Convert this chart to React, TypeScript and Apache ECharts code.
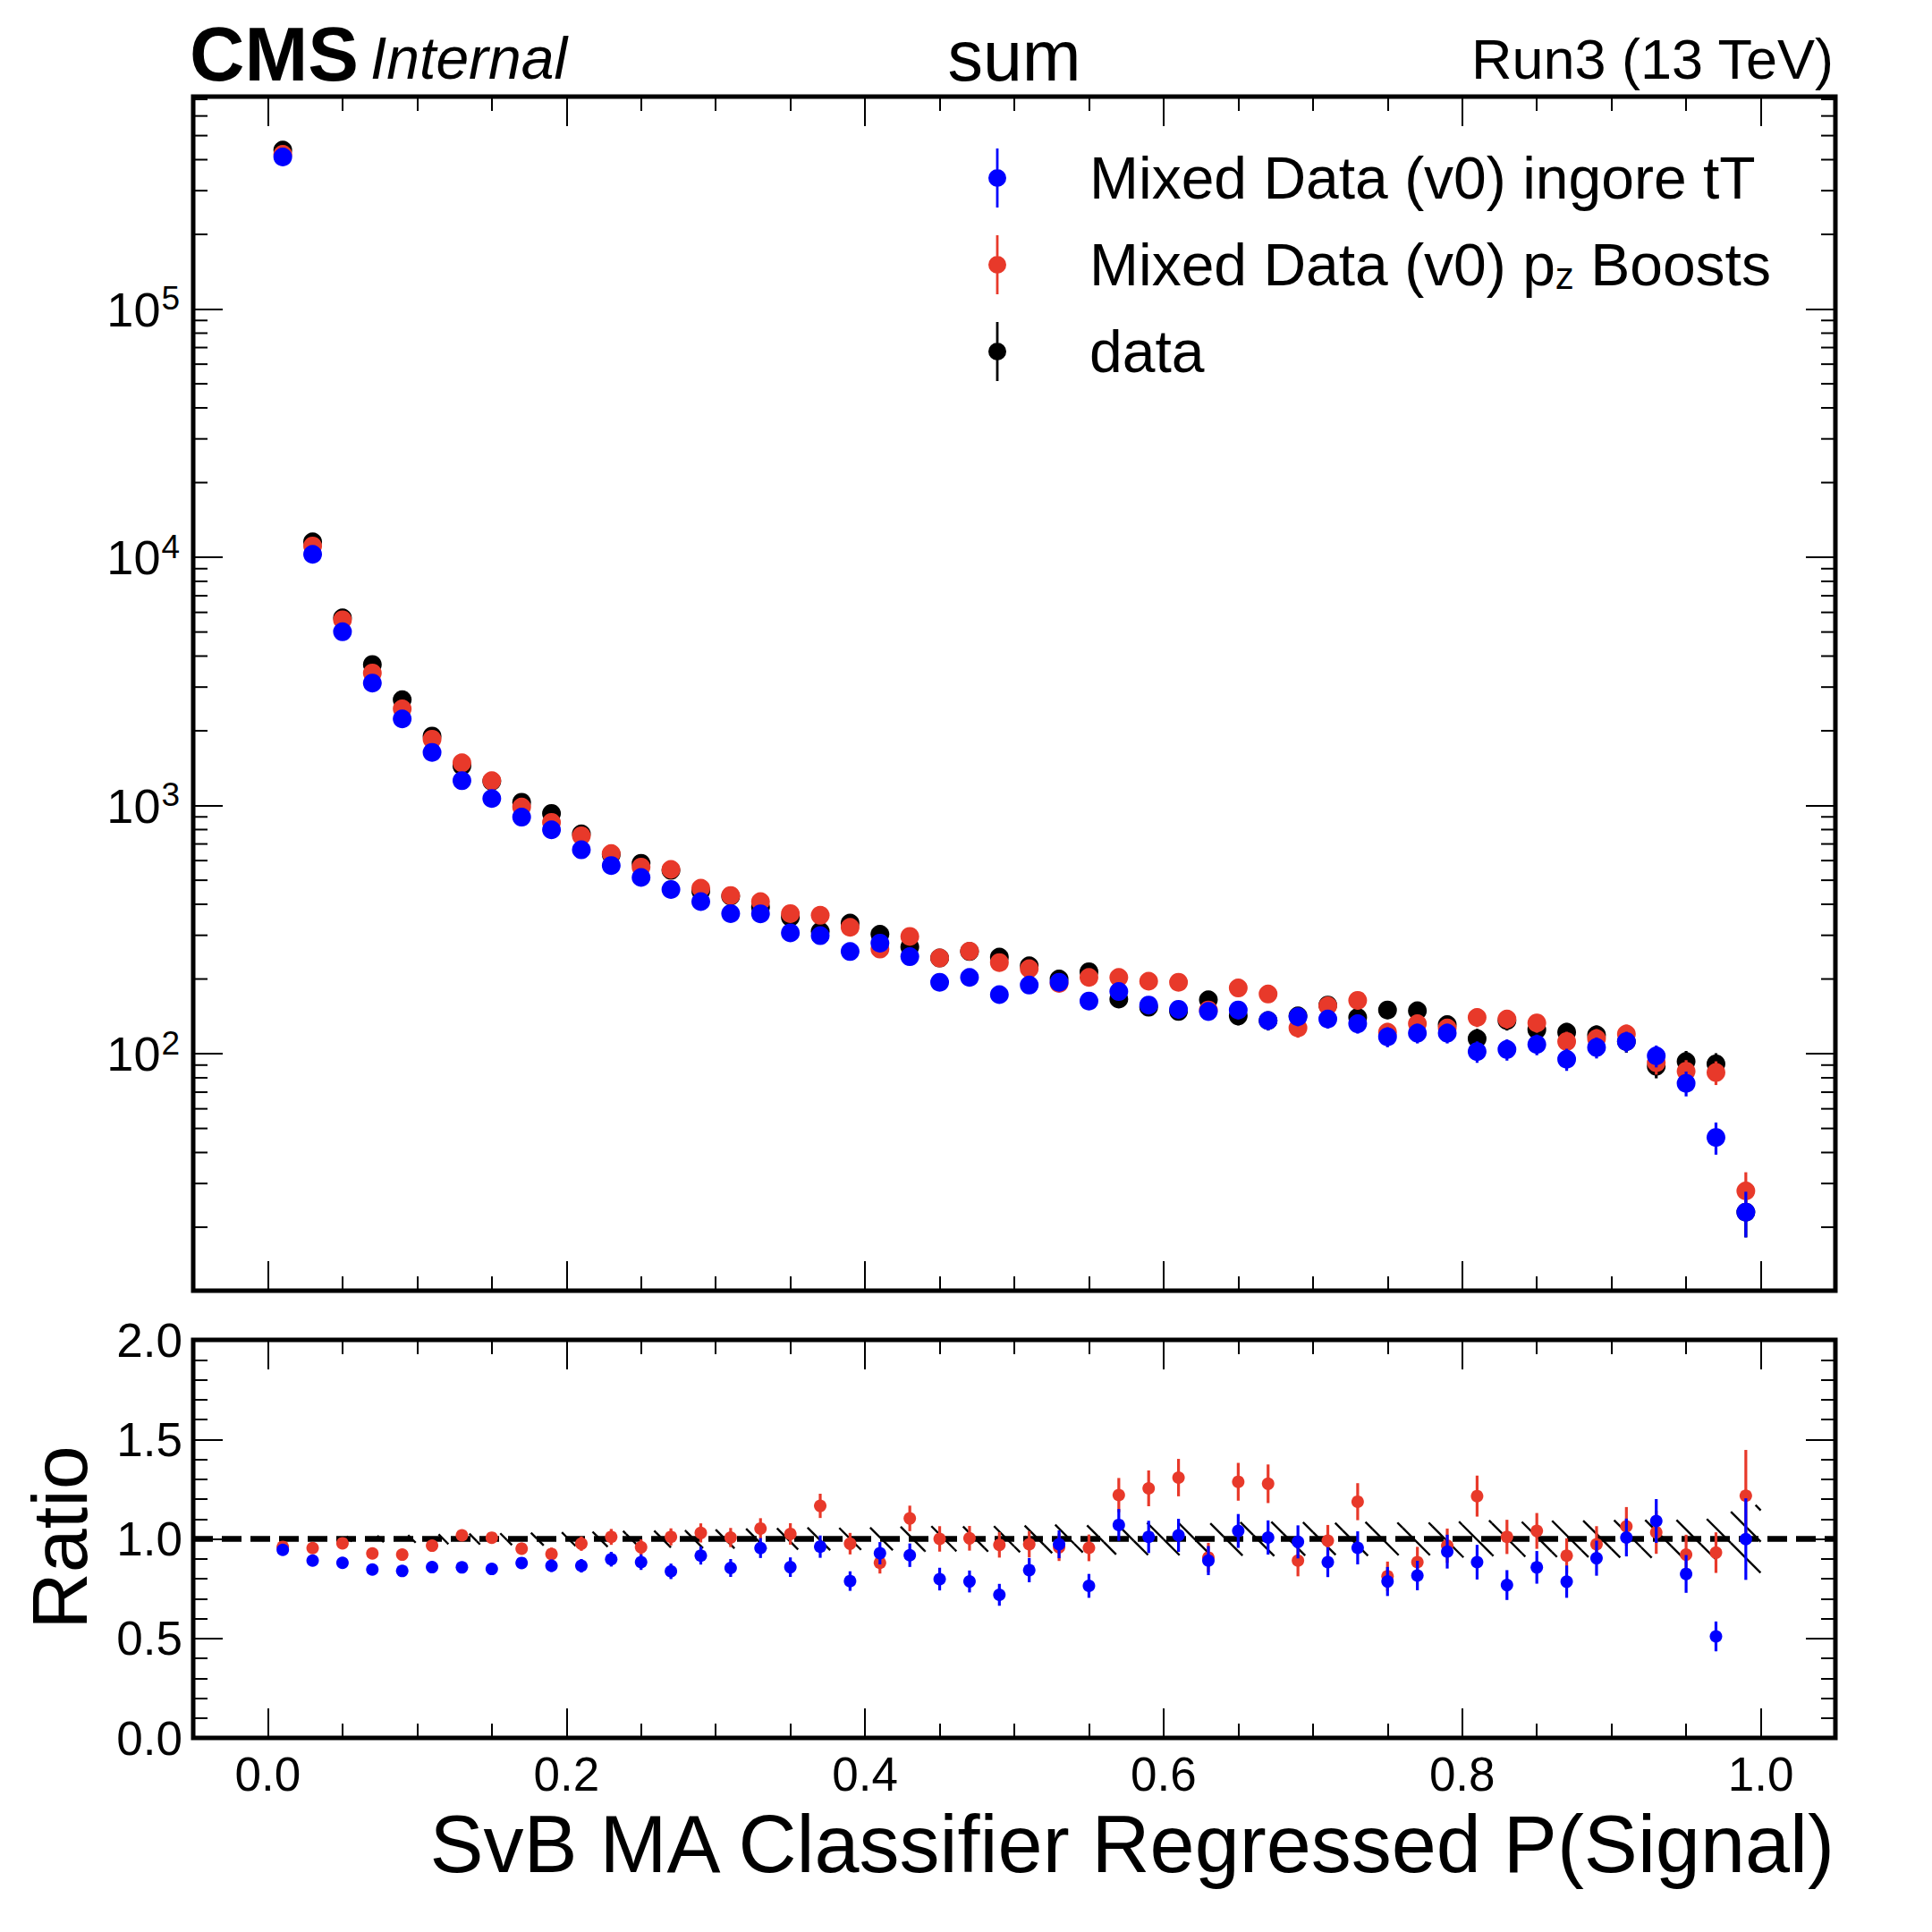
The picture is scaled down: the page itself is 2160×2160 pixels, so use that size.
import React, { useEffect, useRef } from "react";
import * as echarts from "echarts";

const FONT = '"Liberation Sans", Arial, Helvetica, sans-serif';

// ---------------- data ----------------
const BIN_CENTERS = [
  0.01, 0.03, 0.05, 0.07, 0.09, 0.11, 0.13, 0.15, 0.17, 0.19,
  0.21, 0.23, 0.25, 0.27, 0.29, 0.31, 0.33, 0.35, 0.37, 0.39,
  0.41, 0.43, 0.45, 0.47, 0.49, 0.51, 0.53, 0.55, 0.57, 0.59,
  0.61, 0.63, 0.65, 0.67, 0.69, 0.71, 0.73, 0.75, 0.77, 0.79,
  0.81, 0.83, 0.85, 0.87, 0.89, 0.91, 0.93, 0.95, 0.97, 0.99,
];
const BIN_HALF_WIDTH = 0.01;

const NAME_IGNORE = "Mixed Data (v0) ingore tT";
const NAME_PZ = "Mixed Data (v0) pz Boosts";
const NAME_DATA = "data";

const DATA_COUNTS = [
  437000, 11540, 5700, 3700, 2667, 1905, 1445, 1252, 1031, 929,
  769, 634, 585, 548, 452, 431, 390, 355, 311, 336,
  303, 269, 243, 258, 245, 226, 200, 214, 166, 154,
  148, 165, 142, 136, 142, 157, 140, 150, 149, 131,
  115, 136, 125, 122, 119, 112, 89, 93, 91, 23,
];
const DATA_ERR = [
  661, 107, 75, 61, 52, 44, 38, 35, 32, 30,
  28, 25, 24, 23, 21, 21, 20, 19, 18, 18,
  17, 16, 16, 16, 16, 15, 14, 15, 13, 12,
  12, 13, 12, 12, 12, 13, 12, 12, 12, 11,
  11, 12, 11, 11, 11, 11, 9.4, 9.6, 9.5, 4.8,
];

const PZ_COUNTS = [
  420000, 11110, 5600, 3420, 2450, 1850, 1486, 1259, 986, 855,
  755, 640, 565, 553, 464, 434, 410, 367, 361, 323,
  264, 297, 243, 259, 233, 220, 192, 203, 203, 196,
  194, 150, 184, 174, 127, 156, 164, 122, 132, 127,
  140, 138, 133, 112, 115, 120, 92, 85, 84, 28,
];
const PZ_ERR = [
  648, 105, 75, 58, 49, 43, 39, 35, 31, 29,
  27, 25, 24, 24, 22, 21, 20, 19, 19, 18,
  16, 17, 16, 16, 15, 15, 14, 14, 14, 14,
  14, 12, 14, 13, 11, 12, 13, 11, 11.5, 11,
  12, 12, 11.5, 10.6, 10.7, 11, 9.6, 9.2, 9.2, 5.3,
];

const IGNORE_COUNTS = [
  410000, 10280, 5010, 3113, 2233, 1637, 1259, 1067, 898, 798,
  663, 573, 513, 459, 410, 367, 366, 307, 299, 258,
  279, 246, 194, 203, 173, 189, 194, 163, 178, 157,
  151, 148, 150, 136, 141, 138, 132, 117, 121, 121,
  102, 104, 109, 95, 106, 112, 98, 76, 46, 23,
];
const IGNORE_ERR = [
  640, 101, 71, 56, 47, 40, 35, 33, 30, 28,
  26, 24, 23, 21, 20, 19, 19, 17.5, 17.3, 16,
  16.7, 15.7, 14, 14.2, 13.2, 13.7, 14, 12.8, 13.3, 12.5,
  12.3, 12.2, 12.2, 11.7, 11.9, 11.7, 11.5, 10.8, 11, 11,
  10.1, 10.2, 10.4, 9.7, 10.3, 10.6, 9.9, 8.7, 6.8, 4.8,
];

const RATIO_IGNORE = [
  0.945, 0.891, 0.88, 0.846, 0.839, 0.858, 0.857, 0.849, 0.879, 0.865,
  0.865, 0.898, 0.883, 0.837, 0.916, 0.854, 0.954, 0.858, 0.961, 0.788,
  0.928, 0.918, 0.798, 0.786, 0.719, 0.843, 0.973, 0.764, 1.07, 1.01,
  1.018, 0.891, 1.04, 1.007, 0.985, 0.883, 0.955, 0.786, 0.816, 0.936,
  0.883, 0.768, 0.857, 0.785, 0.903, 1.007, 1.09, 0.824, 0.51, 0.999,
];
const RATIO_IGNORE_ERR = [
  0.002, 0.009, 0.012, 0.015, 0.018, 0.021, 0.024, 0.026, 0.029, 0.031,
  0.034, 0.037, 0.039, 0.039, 0.045, 0.045, 0.05, 0.049, 0.056, 0.049,
  0.056, 0.059, 0.057, 0.055, 0.055, 0.061, 0.07, 0.06, 0.08, 0.081,
  0.083, 0.073, 0.085, 0.086, 0.083, 0.075, 0.083, 0.073, 0.074, 0.085,
  0.087, 0.075, 0.082, 0.081, 0.088, 0.095, 0.11, 0.095, 0.075, 0.205,
];
const RATIO_PZ = [
  0.96, 0.954, 0.978, 0.927, 0.921, 0.966, 1.018, 1.006, 0.951, 0.924,
  0.976, 1.01, 0.958, 1.01, 1.03, 1.007, 1.052, 1.025, 1.166, 0.976,
  0.88, 1.103, 1.0, 1.003, 0.97, 0.973, 0.958, 0.955, 1.22, 1.254,
  1.308, 0.906, 1.287, 1.277, 0.891, 0.991, 1.187, 0.812, 0.883, 0.966,
  1.215, 1.01, 1.04, 0.916, 0.973, 1.063, 1.033, 0.921, 0.931, 1.217,
];
const RATIO_PZ_ERR = [
  0.002, 0.009, 0.013, 0.016, 0.019, 0.022, 0.026, 0.028, 0.03, 0.032,
  0.036, 0.04, 0.04, 0.043, 0.048, 0.048, 0.052, 0.054, 0.061, 0.054,
  0.054, 0.064, 0.064, 0.062, 0.064, 0.066, 0.069, 0.067, 0.086, 0.09,
  0.094, 0.074, 0.095, 0.097, 0.079, 0.079, 0.093, 0.074, 0.077, 0.086,
  0.103, 0.086, 0.09, 0.087, 0.091, 0.097, 0.108, 0.1, 0.102, 0.23,
];
// half-height of the hatched data-statistics band around 1
const DATA_STAT_BAND = [
  0.0015, 0.009, 0.013, 0.016, 0.019, 0.023, 0.026, 0.028, 0.031, 0.033,
  0.036, 0.04, 0.041, 0.043, 0.047, 0.048, 0.051, 0.053, 0.057, 0.055,
  0.057, 0.061, 0.064, 0.062, 0.064, 0.067, 0.071, 0.068, 0.078, 0.081,
  0.082, 0.078, 0.084, 0.086, 0.084, 0.08, 0.085, 0.082, 0.082, 0.087,
  0.093, 0.086, 0.089, 0.091, 0.092, 0.094, 0.095, 0.095, 0.1, 0.17,
];

// axis ranges and ticks
const X_MIN = -0.05;
const X_MAX = 1.05;
const Y_MIN = 11.1;
const Y_MAX = 718000;
const LOG_DECADES = [10, 100, 1000, 10000, 100000];
const LOG_MINOR_MULTIPLIERS = [2, 3, 4, 5, 6, 7, 8, 9];
const RATIO_MIN = 0;
const RATIO_MAX = 2;
const RATIO_INTERVAL = 0.5;

// ---------------- layout ----------------
const LEFT = 216;
const WIDTH = 1836;
const MAIN_TOP = 108;
const MAIN_H = 1335;
const RATIO_TOP = 1498;
const RATIO_H = 445;

const BLUE = "#0000ff";
const RED = "#e8392a";
const BLACK = "#000000";

const TICK_STYLE = { color: "#000", width: 2 };

function xAxisDef(gridIndex: number, position: string, showLabels: boolean) {
  return {
    type: "value",
    gridIndex,
    position,
    min: X_MIN,
    max: X_MAX,
    splitNumber: 5,
    axisLine: { show: false, onZero: false },
    splitLine: { show: false },
    minorSplitLine: { show: false },
    axisTick: { show: true, inside: true, length: 33, lineStyle: TICK_STYLE },
    minorTick: { show: true, splitNumber: 4, length: 16, lineStyle: TICK_STYLE },
    axisLabel: {
      show: showLabels,
      margin: 14,
      fontSize: 53,
      fontFamily: FONT,
      color: "#000",
      formatter: (v: number) =>
        Math.abs(v * 5 - Math.round(v * 5)) < 1e-6 ? v.toFixed(1) : "",
    },
  };
}

function logAxisDef(position: string, showLabels: boolean) {
  return {
    type: "log",
    logBase: 10,
    gridIndex: 0,
    position,
    min: Y_MIN,
    max: Y_MAX,
    axisLine: { show: false, onZero: false },
    splitLine: { show: false },
    axisTick: { show: true, inside: true, length: 33, lineStyle: TICK_STYLE },
    axisLabel: {
      show: showLabels,
      margin: 15,
      fontSize: 54,
      fontFamily: FONT,
      color: "#000",
      formatter: (v: number) => {
        const e = Math.log10(v);
        if (Math.abs(e - Math.round(e)) > 1e-6) return "";
        return `{b|10}{s|${Math.round(e)}}`;
      },
      rich: {
        b: { fontSize: 54, lineHeight: 54, fontFamily: FONT, color: "#000" },
        s: { fontSize: 37, lineHeight: 37, fontFamily: FONT, color: "#000", padding: [0, 0, 24, 1] },
      },
    },
  };
}

function ratioAxisDef(position: string, showLabels: boolean) {
  return {
    type: "value",
    gridIndex: 1,
    position,
    min: RATIO_MIN,
    max: RATIO_MAX,
    interval: RATIO_INTERVAL,
    axisLine: { show: false, onZero: false },
    splitLine: { show: false },
    minorSplitLine: { show: false },
    axisTick: { show: true, inside: true, length: 33, lineStyle: TICK_STYLE },
    minorTick: { show: true, splitNumber: 5, length: 16, lineStyle: TICK_STYLE },
    axisLabel: {
      show: showLabels,
      margin: 12,
      fontSize: 53,
      fontFamily: FONT,
      color: "#000",
      formatter: (v: number) => v.toFixed(1),
    },
  };
}

function errorBars(
  xAxisIndex: number,
  yAxisIndex: number,
  values: number[],
  errs: number[],
  color: string,
  z: number
) {
  return {
    type: "custom",
    xAxisIndex,
    yAxisIndex,
    silent: true,
    z,
    encode: { x: 0, y: [1, 2] },
    data: BIN_CENTERS.map((x, i) => [x, values[i] - errs[i], values[i] + errs[i]]),
    renderItem: (_params: any, api: any) => {
      const p0 = api.coord([api.value(0), api.value(1)]);
      const p1 = api.coord([api.value(0), api.value(2)]);
      return {
        type: "line",
        shape: { x1: p0[0], y1: p0[1], x2: p1[0], y2: p1[1] },
        style: { stroke: color, lineWidth: 3.2 },
      };
    },
  };
}

function points(
  name: string,
  xAxisIndex: number,
  yAxisIndex: number,
  values: number[],
  color: string,
  size: number,
  z: number
) {
  return {
    type: "scatter",
    name,
    xAxisIndex,
    yAxisIndex,
    symbol: "circle",
    symbolSize: size,
    silent: true,
    z,
    itemStyle: { color, opacity: 1 },
    data: BIN_CENTERS.map((x, i) => [x, values[i]]),
  };
}

const LEGEND_ICON =
  "path://M8.6 0L11.4 0L11.4 66L8.6 66Z M0 33A10 10 0 1 1 20 33A10 10 0 1 1 0 33Z";

function buildOption() {
  const logMinor: number[][] = [];
  LOG_DECADES.forEach((d) =>
    LOG_MINOR_MULTIPLIERS.forEach((m) => {
      const v = d * m;
      if (v > Y_MIN && v < Y_MAX) logMinor.push([X_MIN, v]);
    })
  );

  return {
    animation: false,
    backgroundColor: "#ffffff",
    textStyle: { fontFamily: FONT },
    grid: [
      {
        left: LEFT,
        top: MAIN_TOP,
        width: WIDTH,
        height: MAIN_H,
        show: true,
        borderColor: "#000",
        borderWidth: 5,
        backgroundColor: "transparent",
      },
      {
        left: LEFT,
        top: RATIO_TOP,
        width: WIDTH,
        height: RATIO_H,
        show: true,
        borderColor: "#000",
        borderWidth: 5,
        backgroundColor: "transparent",
      },
    ],
    xAxis: [
      xAxisDef(0, "bottom", false),
      xAxisDef(0, "top", false),
      xAxisDef(1, "bottom", true),
      xAxisDef(1, "top", false),
    ],
    yAxis: [
      logAxisDef("left", true),
      logAxisDef("right", false),
      ratioAxisDef("left", true),
      ratioAxisDef("right", false),
    ],
    legend: {
      show: true,
      orient: "vertical",
      left: 1105,
      top: 166,
      padding: 0,
      itemWidth: 20,
      itemHeight: 66,
      itemGap: 31,
      selectedMode: false,
      data: [
        { name: NAME_IGNORE, icon: LEGEND_ICON },
        { name: NAME_PZ, icon: LEGEND_ICON },
        { name: NAME_DATA, icon: LEGEND_ICON },
      ],
      formatter: (name: string) => {
        if (name === NAME_PZ) return "{a|Mixed Data (v0) p}{sub|z}{n| Boosts}";
        return `{a|${name}}`;
      },
      textStyle: {
        color: "#000",
        fontFamily: FONT,
        fontSize: 66,
        rich: {
          a: { fontSize: 66, lineHeight: 66, fontFamily: FONT, color: "#000", padding: [0, 0, 0, 88] },
          n: { fontSize: 66, lineHeight: 66, fontFamily: FONT, color: "#000" },
          sub: { fontSize: 42, lineHeight: 29, fontFamily: FONT, color: "#000", verticalAlign: "bottom" },
        },
      },
    },
    graphic: [
      {
        type: "text",
        x: 212,
        y: 60,
        silent: true,
        style: { text: "CMS", fontSize: 85, fontWeight: "bold", fontFamily: FONT, fill: "#000", align: "left", verticalAlign: "middle" },
      },
      {
        type: "text",
        x: 414,
        y: 65,
        silent: true,
        style: { text: "Internal", fontSize: 66, fontStyle: "italic", fontFamily: FONT, fill: "#000", align: "left", verticalAlign: "middle" },
      },
      {
        type: "text",
        x: LEFT + WIDTH / 2,
        y: 62.5,
        silent: true,
        style: { text: "sum", fontSize: 79, fontFamily: FONT, fill: "#000", align: "center", verticalAlign: "middle" },
      },
      {
        type: "text",
        x: 2050,
        y: 66,
        silent: true,
        style: { text: "Run3 (13 TeV)", fontSize: 63, fontFamily: FONT, fill: "#000", align: "right", verticalAlign: "middle" },
      },
      {
        type: "text",
        x: 2051,
        y: 2062,
        silent: true,
        style: { text: "SvB MA Classifier Regressed P(Signal)", fontSize: 90, fontFamily: FONT, fill: "#000", align: "right", verticalAlign: "middle" },
      },
      {
        type: "text",
        x: 66,
        y: 1719,
        rotation: Math.PI / 2,
        silent: true,
        style: { text: "Ratio", fontSize: 88, fontFamily: FONT, fill: "#000", align: "center", verticalAlign: "middle" },
      },
    ],
    series: [
      // minor log ticks on both sides of the main panel
      {
        type: "custom",
        xAxisIndex: 0,
        yAxisIndex: 0,
        silent: true,
        z: 1,
        encode: { x: 0, y: 1 },
        data: logMinor,
        renderItem: (params: any, api: any) => {
          const cs = params.coordSys;
          const p = api.coord([api.value(0), api.value(1)]);
          const y = p[1];
          return {
            type: "group",
            children: [
              { type: "line", shape: { x1: cs.x, y1: y, x2: cs.x + 16, y2: y }, style: { stroke: "#000", lineWidth: 2 } },
              { type: "line", shape: { x1: cs.x + cs.width - 16, y1: y, x2: cs.x + cs.width, y2: y }, style: { stroke: "#000", lineWidth: 2 } },
            ],
          };
        },
      },
      // main panel
      errorBars(0, 0, DATA_COUNTS, DATA_ERR, BLACK, 2),
      points(NAME_DATA, 0, 0, DATA_COUNTS, BLACK, 21, 3),
      errorBars(0, 0, PZ_COUNTS, PZ_ERR, RED, 4),
      points(NAME_PZ, 0, 0, PZ_COUNTS, RED, 21, 5),
      errorBars(0, 0, IGNORE_COUNTS, IGNORE_ERR, BLUE, 6),
      points(NAME_IGNORE, 0, 0, IGNORE_COUNTS, BLUE, 21, 7),
      // ratio panel: hatched data-stat band + dashed unity line
      {
        type: "custom",
        xAxisIndex: 2,
        yAxisIndex: 2,
        silent: true,
        z: 1,
        encode: { x: 0, y: 1 },
        data: BIN_CENTERS.map((x, i) => [x, 1, DATA_STAT_BAND[i]]),
        renderItem: (_params: any, api: any) => {
          const x = api.value(0);
          const h = api.value(2);
          const pA = api.coord([x - BIN_HALF_WIDTH, 1 + h]);
          const pB = api.coord([x + BIN_HALF_WIDTH, 1 - h]);
          const X0 = pA[0], X1 = pB[0], Y0 = pA[1], Y1 = pB[1];
          const s = 35;
          const children: any[] = [];
          const kMin = Math.ceil((X0 - Y1) / s);
          const kMax = Math.floor((X1 - Y0) / s);
          for (let k = kMin; k <= kMax; k++) {
            const c = k * s;
            const xa = Math.max(X0, Y0 + c);
            const xb = Math.min(X1, Y1 + c);
            if (xb > xa) {
              children.push({
                type: "line",
                shape: { x1: xa, y1: xa - c, x2: xb, y2: xb - c },
                style: { stroke: "#000", lineWidth: 2.4 },
              });
            }
          }
          return { type: "group", children };
        },
        markLine: {
          silent: true,
          z: 2,
          symbol: ["none", "none"],
          label: { show: false },
          lineStyle: { color: "#000", width: 6.5, type: [22, 10] },
          data: [{ yAxis: 1 }],
        },
      },
      errorBars(2, 2, RATIO_PZ, RATIO_PZ_ERR, RED, 3),
      points("ratio-pz", 2, 2, RATIO_PZ, RED, 14, 4),
      errorBars(2, 2, RATIO_IGNORE, RATIO_IGNORE_ERR, BLUE, 5),
      points("ratio-ignore", 2, 2, RATIO_IGNORE, BLUE, 14, 6),
    ],
  };
}

export default function App() {
  const ref = useRef<HTMLDivElement>(null);
  useEffect(() => {
    document.body.style.margin = "0";
    const chart = echarts.init(ref.current as HTMLDivElement, undefined, { renderer: "svg" });
    chart.setOption(buildOption() as any);
    return () => chart.dispose();
  }, []);
  return <div ref={ref} style={{ width: 2160, height: 2160, background: "#fff" }} />;
}
